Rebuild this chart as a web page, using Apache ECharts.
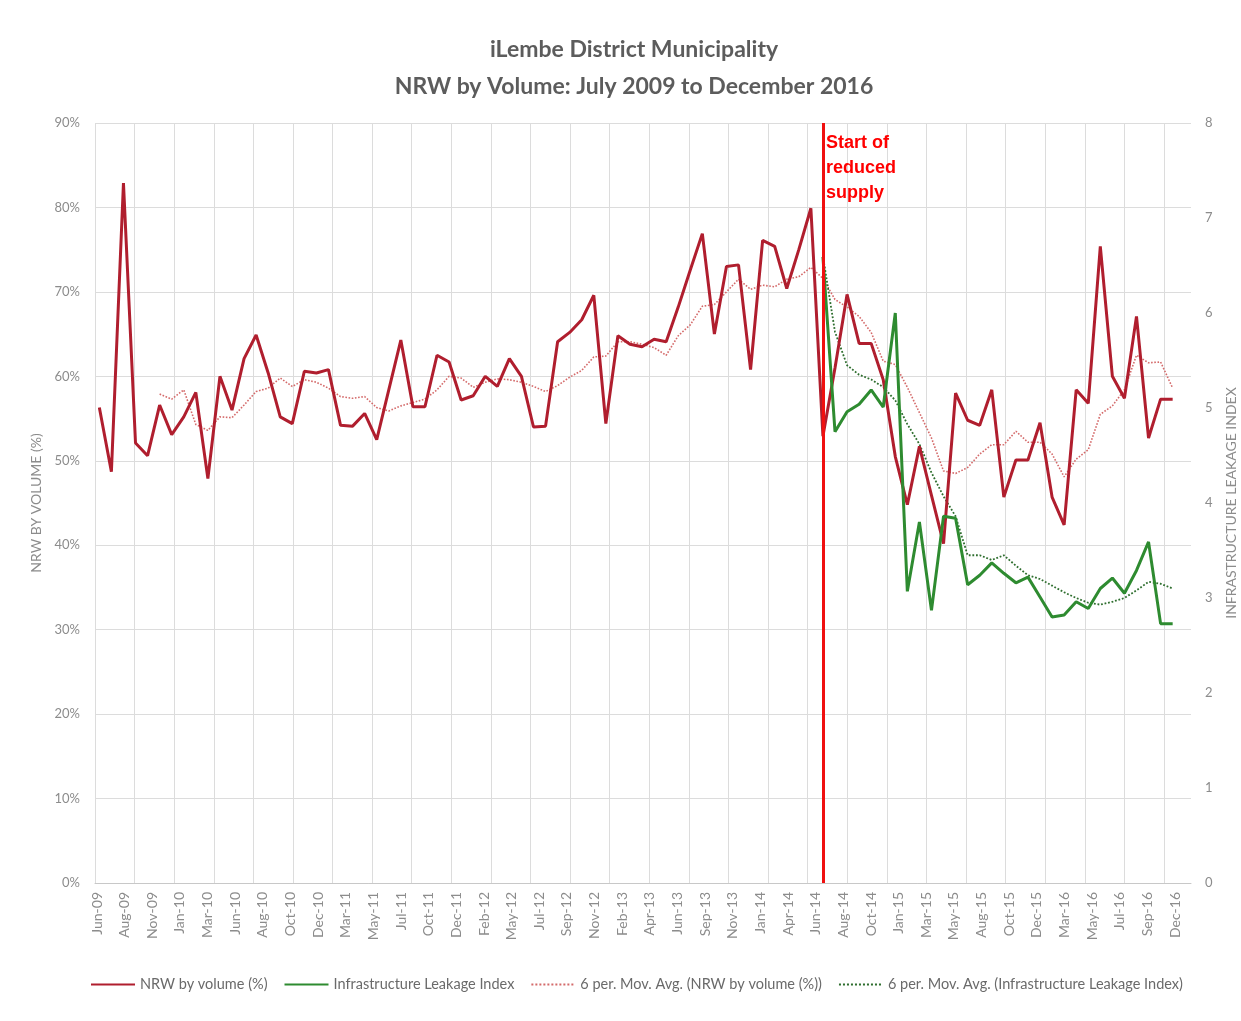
<!DOCTYPE html>
<html>
<head>
<meta charset="utf-8">
<title>iLembe District Municipality - NRW by Volume</title>
<script src="https://cdn.jsdelivr.net/npm/echarts@6/dist/echarts.min.js"></script>
<style>
  html, body { margin: 0; padding: 0; background: #fff; }
  #main { width: 1241px; height: 1021px; }
</style>
</head>
<body>
<div id="main"></div>
<script>
// tick labels printed under the chart (Excel spaced them ~70 days apart)
var tickLabels = ['Jun-09', 'Aug-09', 'Nov-09', 'Jan-10', 'Mar-10', 'Jun-10', 'Aug-10', 'Oct-10',
  'Dec-10', 'Mar-11', 'May-11', 'Jul-11', 'Oct-11', 'Dec-11', 'Feb-12', 'May-12', 'Jul-12',
  'Sep-12', 'Nov-12', 'Feb-13', 'Apr-13', 'Jun-13', 'Sep-13', 'Nov-13', 'Jan-14', 'Apr-14',
  'Jun-14', 'Aug-14', 'Oct-14', 'Jan-15', 'Mar-15', 'May-15', 'Aug-15', 'Oct-15', 'Dec-15',
  'Mar-16', 'May-16', 'Jul-16', 'Sep-16', 'Dec-16'];

// monthly NRW by volume (%), Jul-09 .. Dec-16 (90 months)
var nrw = [56.3, 48.7, 82.9, 52.1, 50.6, 56.6, 53.1, 55.2, 58.1, 47.9,
  60.0, 56.0, 62.1, 64.9, 60.4, 55.2, 54.4, 60.6, 60.4, 60.8,
  54.2, 54.1, 55.6, 52.5, 58.4, 64.3, 56.4, 56.4, 62.5, 61.7,
  57.2, 57.7, 60.0, 58.8, 62.1, 60.0, 54.0, 54.1, 64.1, 65.2,
  66.7, 69.6, 54.4, 64.8, 63.8, 63.5, 64.4, 64.1, 68.2, 72.6,
  76.9, 65.0, 73.0, 73.2, 60.8, 76.1, 75.4, 70.4, 75.0, 79.9,
  52.9, 61.0, 69.7, 63.9, 63.9, 59.6, 50.5, 44.8, 51.7, 45.9,
  40.2, 58.0, 54.8, 54.2, 58.4, 45.7, 50.1, 50.1, 54.5, 45.7,
  42.4, 58.4, 56.8, 75.4, 60.0, 57.4, 67.1, 52.7, 57.3, 57.3];

// 6 period moving average of NRW (starts at month 6)
var nrwAvgFrom = 5;
var nrwAvg = [57.9, 57.3, 58.4, 54.3, 53.6, 55.2, 55.1, 56.6, 58.2, 58.6,
  59.8, 58.8, 59.6, 59.3, 58.6, 57.6, 57.4, 57.6, 56.3, 55.9,
  56.5, 56.9, 57.3, 58.4, 60.0, 59.8, 58.7, 59.3, 59.7, 59.6,
  59.3, 58.8, 58.2, 58.9, 59.9, 60.7, 62.3, 62.4, 64.1, 64.1,
  63.8, 63.4, 62.5, 64.8, 66.1, 68.3, 68.5, 70.0, 71.5, 70.3,
  70.8, 70.6, 71.5, 71.8, 72.9, 71.6, 69.1, 68.2, 67.1, 65.2,
  61.8, 61.4, 58.7, 55.7, 52.7, 48.8, 48.5, 49.2, 50.8, 51.9,
  51.9, 53.5, 52.2, 52.2, 50.8, 48.1, 50.2, 51.3, 55.5, 56.5,
  58.4, 62.5, 61.6, 61.7, 58.6];

// infrastructure leakage index, from Jul-14 onwards
var iliFrom = 60;
var ili = [6.59, 4.75, 4.96, 5.04, 5.19, 5.01, 6.00, 3.07, 3.80, 2.87,
  3.86, 3.84, 3.14, 3.24, 3.37, 3.26, 3.16, 3.22, 3.01, 2.80,
  2.82, 2.96, 2.89, 3.10, 3.21, 3.05, 3.29, 3.59, 2.73, 2.73];
var iliAvg = [6.60, 5.80, 5.45, 5.35, 5.30, 5.22, 5.08, 4.83, 4.62, 4.32,
  4.07, 3.86, 3.45, 3.45, 3.40, 3.45, 3.34, 3.24, 3.20, 3.13,
  3.06, 3.00, 2.95, 2.93, 2.96, 3.00, 3.08, 3.17, 3.15, 3.10];

var reducedSupplyAt = 60; // Jul-14

// where the excel axis put its labels and gridlines (in months from Jul-09)
var labelStart = -0.19, labelStep = 2.292;
var gridStart = -0.36, gridStep = 3.283, gridCount = 28;

var labelPos = tickLabels.map(function (t, k) { return labelStart + k * labelStep; });
var gridPos = [];
for (var k = 0; k < gridCount; k++) gridPos.push(gridStart + k * gridStep);

function pairs(arr, from) {
  return arr.map(function (v, i) { return [from + i, v]; });
}

var grey = '#8c8c8c';
var font = 'Lato';
var chart = echarts.init(document.getElementById('main'));

var option = {
  backgroundColor: '#fff',
  animation: false,
  title: {
    text: 'iLembe District Municipality\nNRW by Volume: July 2009 to December 2016',
    left: 634,
    top: 31,
    textAlign: 'center',
    padding: 0,
    textStyle: {
      fontFamily: font,
      fontSize: 23,
      fontWeight: 'bold',
      lineHeight: 37,
      color: '#5c5c5c'
    }
  },
  legend: {
    bottom: 24,
    left: 85,
    itemWidth: 44,
    itemHeight: 10,
    itemGap: 16,
    itemStyle: { opacity: 0 },
    textStyle: { fontFamily: font, fontSize: 14.5, color: '#6a6a6a' },
    data: ['NRW by volume (%)', 'Infrastructure Leakage Index',
      '6 per. Mov. Avg. (NRW by volume (%))', '6 per. Mov. Avg. (Infrastructure Leakage Index)']
  },
  grid: { left: 95, right: 50, top: 123, bottom: 138, outerBoundsMode: 'none' },
  xAxis: {
    type: 'value',
    min: gridStart,
    max: 90.52,
    axisLine: { lineStyle: { color: '#c8c8c8', width: 1 } },
    axisTick: { show: false, customValues: gridPos },
    splitLine: { show: true, lineStyle: { color: '#dcdcdc', width: 1 } },
    axisLabel: {
      customValues: labelPos,
      rotate: 90,
      margin: 9,
      color: grey,
      fontFamily: font,
      fontSize: 14,
      formatter: function (value) {
        var k = Math.round((value - labelStart) / labelStep);
        return tickLabels[k] || '';
      }
    }
  },
  yAxis: [{
    type: 'value',
    min: 0,
    max: 90,
    interval: 10,
    name: 'NRW BY VOLUME (%)',
    nameLocation: 'middle',
    nameRotate: 90,
    nameGap: 48,
    nameTextStyle: { color: grey, fontFamily: font, fontSize: 14 },
    axisLine: { show: false },
    axisTick: { show: false },
    axisLabel: { color: grey, fontFamily: font, fontSize: 13, margin: 15, formatter: '{value}%' },
    splitLine: { lineStyle: { color: '#dcdcdc', width: 1 } }
  }, {
    type: 'value',
    min: 0,
    max: 8,
    interval: 1,
    position: 'right',
    name: 'INFRASTRUCTURE LEAKAGE INDEX',
    nameLocation: 'middle',
    nameRotate: 90,
    nameGap: 33,
    nameTextStyle: { color: grey, fontFamily: font, fontSize: 14 },
    axisLine: { show: false },
    axisTick: { show: false },
    axisLabel: { color: grey, fontFamily: font, fontSize: 13, margin: 14 },
    splitLine: { show: false }
  }],
  graphic: [{
    type: 'text',
    left: 826,
    top: 131,
    z: 100,
    style: {
      text: 'Start of\nreduced\nsupply',
      fill: '#ff0000',
      fontFamily: 'Liberation Sans',
      fontWeight: 'bold',
      fontSize: 18,
      lineHeight: 25
    }
  }],
  series: [{
    name: '6 per. Mov. Avg. (NRW by volume (%))',
    type: 'line',
    data: pairs(nrwAvg, nrwAvgFrom),
    symbol: 'none',
    z: 2,
    itemStyle: { color: '#d46a6a' },
    lineStyle: { color: '#d46a6a', width: 1.6, type: 'dotted' }
  }, {
    name: '6 per. Mov. Avg. (Infrastructure Leakage Index)',
    type: 'line',
    yAxisIndex: 1,
    data: pairs(iliAvg, iliFrom),
    symbol: 'none',
    z: 2,
    itemStyle: { color: '#2e6e2e' },
    lineStyle: { color: '#2e6e2e', width: 1.8, type: 'dotted' }
  }, {
    name: 'NRW by volume (%)',
    type: 'line',
    data: pairs(nrw, 0),
    symbol: 'none',
    z: 3,
    itemStyle: { color: '#b01e2e' },
    lineStyle: { color: '#b01e2e', width: 3 },
    markLine: {
      silent: true,
      symbol: ['none', 'none'],
      label: { show: false },
      lineStyle: { color: '#f01010', width: 3, type: 'solid' },
      data: [{ xAxis: reducedSupplyAt }]
    }
  }, {
    name: 'Infrastructure Leakage Index',
    type: 'line',
    yAxisIndex: 1,
    data: pairs(ili, iliFrom),
    symbol: 'none',
    z: 4,
    itemStyle: { color: '#2e8b30' },
    lineStyle: { color: '#2e8b30', width: 3 }
  }]
};

chart.setOption(option);
</script>
</body>
</html>
